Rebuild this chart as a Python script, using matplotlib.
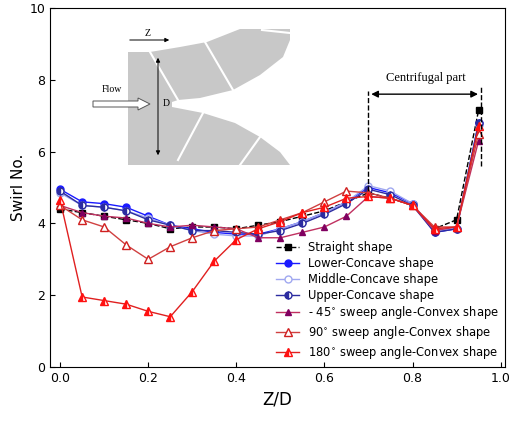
import matplotlib.pyplot as plt
from matplotlib.patches import Polygon, FancyArrow

z = [0.0, 0.05, 0.1, 0.15, 0.2, 0.25, 0.3, 0.35, 0.4, 0.45,
     0.5, 0.55, 0.6, 0.65, 0.7, 0.75, 0.8, 0.85, 0.9, 0.95]
straight = [4.4, 4.3, 4.2, 4.1, 4.0, 3.85, 3.9, 3.9, 3.85, 3.95,
            4.05, 4.2, 4.35, 4.6, 4.85, 4.7, 4.5, 3.85, 4.1, 7.15]
lower = [4.95, 4.6, 4.55, 4.45, 4.2, 3.95, 3.85, 3.75, 3.7, 3.7,
         3.85, 4.05, 4.3, 4.6, 5.0, 4.85, 4.55, 3.75, 3.85, 6.8]
middle = [4.85, 4.5, 4.45, 4.35, 4.15, 3.95, 3.8, 3.7, 3.65, 3.65,
          3.85, 4.05, 4.3, 4.6, 5.05, 4.9, 4.55, 3.8, 3.85, 6.75]
upper = [4.9, 4.5, 4.45, 4.35, 4.1, 3.95, 3.8, 3.8, 3.75, 3.7,
         3.8, 4.0, 4.25, 4.55, 4.95, 4.8, 4.5, 3.75, 3.85, 6.8]
neg45 = [4.5, 4.3, 4.2, 4.15, 4.0, 3.9, 3.95, 3.9, 3.85, 3.6,
         3.6, 3.75, 3.9, 4.2, 4.75, 4.7, 4.5, 3.8, 3.9, 6.3]
sweep90 = [4.5, 4.1, 3.9, 3.4, 3.0, 3.35, 3.6, 3.8, 3.85, 3.9,
           4.1, 4.3, 4.6, 4.9, 4.85, 4.7, 4.5, 3.9, 3.9, 6.5]
sweep180 = [4.65, 1.95, 1.85, 1.75, 1.55, 1.4, 2.1, 2.95, 3.55, 3.85,
            4.05, 4.3, 4.45, 4.7, 4.75, 4.7, 4.5, 3.85, 3.9, 6.7]

fig = plt.figure(figsize=(5.15, 4.24), dpi=100)
ax = fig.add_axes([50/515, 57/424, 455/515, 359/424])

ms = 5
ax.plot(z, straight, '--s', color='black', mfc='black', ms=4.5, lw=1, label='Straight shape')
ax.plot(z, lower, '-o', color='#1a1aff', mfc='#1a1aff', ms=ms, lw=1, label='Lower-Concave shape')
ax.plot(z, middle, '-o', color='#a0a8f0', mfc='white', ms=ms, lw=1, label='Middle-Concave shape')
ax.plot(z, upper, '-o', color='#2c2ca0', fillstyle='left', mfc='#2c2ca0', mfcalt='white',
        ms=ms, lw=1, label='Upper-Concave shape')
ax.plot(z, neg45, '-^', color='#c03060', mfc='#800060', mec='#800060', ms=ms, lw=1,
        label='- 45$^{\\circ}$ sweep angle-Convex shape')
ax.plot(z, sweep90, '-^', color='#d04040', mfc='white', mec='#d02020', ms=6, lw=1,
        label='90$^{\\circ}$ sweep angle-Convex shape')
ax.plot(z, sweep180, '-^', color='#e02020', fillstyle='left', mfc='#ff1010', mfcalt='white',
        mec='#ff1010', ms=6, lw=1, label='180$^{\\circ}$ sweep angle-Convex shape')

ax.set_xlim(-0.023, 1.01)
ax.set_ylim(0, 10)
ax.set_xticks([0, 0.2, 0.4, 0.6, 0.8, 1.0])
ax.set_xticklabels(['0.0', '0.2', '0.4', '0.6', '0.8', '1.0'])
ax.set_yticks([0, 2, 4, 6, 8, 10])
ax.tick_params(direction='in', labelsize=9)
ax.set_xlabel('Z/D', fontsize=12)
ax.set_ylabel('Swirl No.', fontsize=11, labelpad=2)
ax.legend(loc='lower right', frameon=False, fontsize=8.3, handlelength=2,
          labelspacing=0.25, borderaxespad=0.1)

# centrifugal part marker
ax.plot([0.7, 0.7], [4.9, 7.7], 'k--', lw=1)
ax.plot([0.955, 0.955], [5.6, 7.8], 'k--', lw=1)
ax.annotate('', xy=(0.955, 7.6), xytext=(0.7, 7.6),
            arrowprops=dict(arrowstyle='<|-|>', color='black', lw=1))
ax.text(0.83, 8.05, 'Centrifugal part', ha='center', va='center', fontsize=9,
        family='Liberation Serif',
        bbox=dict(facecolor='white', edgecolor='none', pad=1))

# inset sketch in pixel coords
ov = fig.add_axes([0, 0, 1, 1], facecolor='none')
ov.set_xlim(0, 515)
ov.set_ylim(424, 0)
ov.axis('off')
shape = [(128, 52), (150, 52), (180, 47), (207, 42), (240, 29), (290, 29), (290, 40),
         (283, 57), (260, 75), (233, 90), (200, 98), (178, 100), (172, 102), (172, 107),
         (203, 113), (235, 123), (260, 137), (280, 152), (290, 165), (128, 165)]
ov.add_patch(Polygon(shape, closed=True, facecolor='#c8c8c8', edgecolor='none'))
for seg in [[(150, 52), (178, 100)], [(205, 42), (233, 90)], [(262, 30), (290, 33)],
            [(203, 113), (178, 160)], [(260, 137), (240, 165)]]:
    xs, ys = zip(*seg)
    ov.plot(xs, ys, color='white', lw=1.5)
ov.annotate('', xy=(172, 40), xytext=(127, 40),
            arrowprops=dict(arrowstyle='-|>', color='black', lw=0.7, mutation_scale=6))
ov.text(148, 33, 'Z', fontsize=7, family='Liberation Serif', ha='center', va='center')
ov.annotate('', xy=(158, 55), xytext=(158, 158),
            arrowprops=dict(arrowstyle='<|-|>', color='black', lw=0.7, mutation_scale=6))
ov.text(166, 103, 'D', fontsize=7, family='Liberation Serif', ha='center', va='center')
ov.text(112, 90, 'Flow', fontsize=7, family='Liberation Serif', ha='center', va='center')
ov.add_patch(FancyArrow(93, 104, 45, 0, width=6, head_width=12, head_length=12,
                        facecolor='white', edgecolor='#555555', lw=0.7,
                        length_includes_head=False))

fig.savefig('out.png', dpi=100)
